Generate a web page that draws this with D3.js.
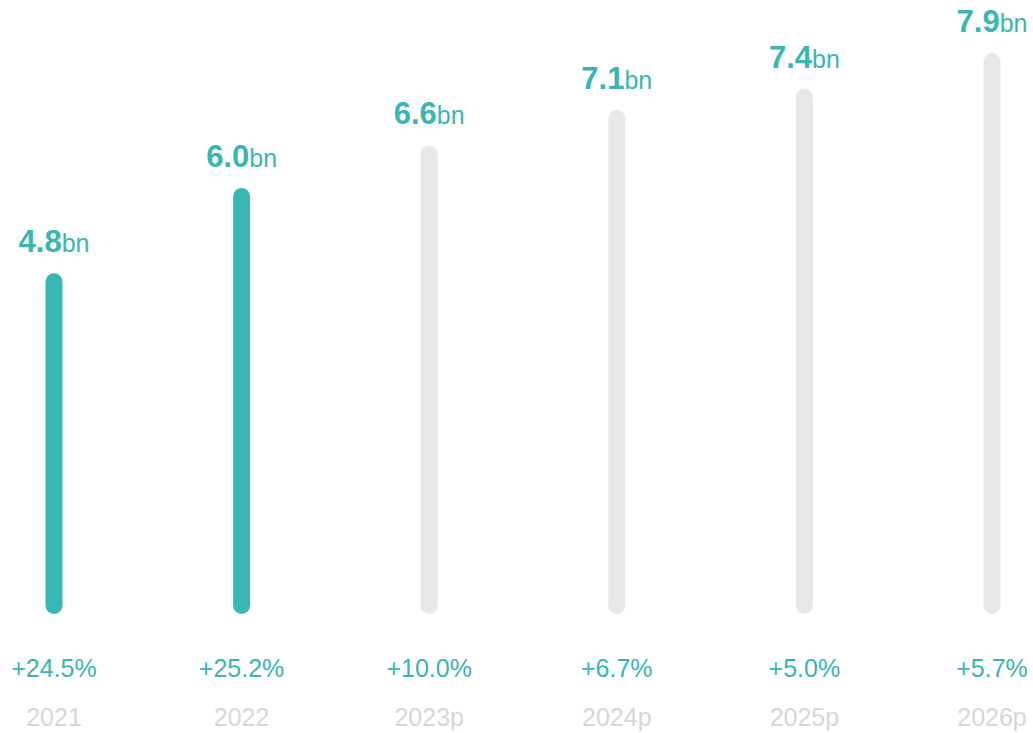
<!DOCTYPE html>
<html>
<head>
<meta charset="utf-8">
<script src="https://cdn.jsdelivr.net/npm/d3@7"></script>
<style>
body { margin: 0; background: #fff; }
</style>
</head>
<body>
<div id="chart"></div>
<script>
var years = ["2021", "2022", "2023p", "2024p", "2025p", "2026p"];
var values = [4.8, 6.0, 6.6, 7.1, 7.4, 7.9];
var growth = ["+24.5%", "+25.2%", "+10.0%", "+6.7%", "+5.0%", "+5.7%"];
var actual = [true, true, false, false, false, false];

var w = 1033;
var h = 733;
var barW = 17;
var teal = "#37b8b4";
var grey = "#e8e8ea";
var font = "Liberation Sans, Arial, sans-serif";

var svg = d3.select("#chart")
            .append("svg")
            .attr("width", w)
            .attr("height", h);

// bar centres run 54 .. 992
var x = d3.scalePoint()
          .domain(years)
          .range([54, 992]);

// about 71px per bn, baseline at 614
var y = d3.scaleLinear()
          .domain([0, 7.9])
          .range([614, 614 - 71 * 7.9]);

var bars = svg.selectAll("g.bar")
         .data(years)
         .enter()
         .append("g")
         .attr("class", "bar");

bars.append("rect")
    .attr("x", function(d) { return x(d) - barW / 2; })
    .attr("y", function(d, i) { return y(values[i]); })
    .attr("width", barW)
    .attr("height", function(d, i) { return y(0) - y(values[i]); })
    .attr("rx", barW / 2)
    .attr("fill", function(d, i) { return actual[i] ? teal : grey; });

var lab = bars.append("text")
    .attr("x", function(d) { return x(d); })
    .attr("y", function(d, i) { return y(values[i]) - 21; })
    .attr("text-anchor", "middle")
    .attr("font-family", font)
    .attr("fill", "#3ab5b1");

lab.append("tspan")
   .attr("font-size", "31px")
   .attr("font-weight", "bold")
   .text(function(d, i) { return values[i].toFixed(1); });

lab.append("tspan")
   .attr("font-size", "25px")
   .text("bn");

bars.append("text")
    .attr("x", function(d) { return x(d); })
    .attr("y", 677)
    .attr("text-anchor", "middle")
    .attr("font-family", font)
    .attr("font-size", "25px")
    .attr("fill", "#3ab5b1")
    .text(function(d, i) { return growth[i]; });

bars.append("text")
    .attr("x", function(d) { return x(d); })
    .attr("y", 726)
    .attr("text-anchor", "middle")
    .attr("font-family", font)
    .attr("font-size", "25px")
    .attr("fill", "#d9d5dd")
    .text(function(d) { return d; });
</script>
</body>
</html>
